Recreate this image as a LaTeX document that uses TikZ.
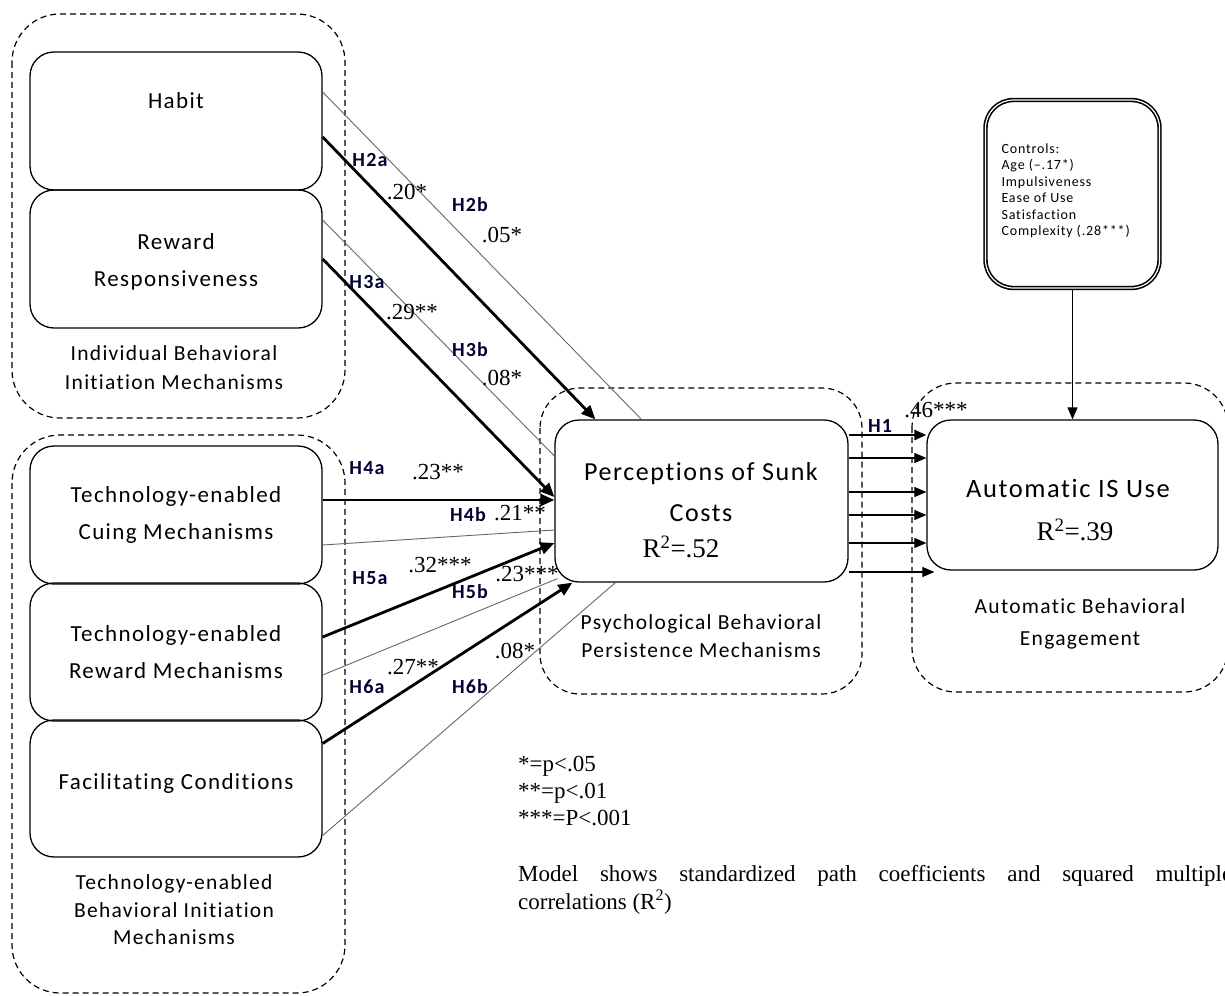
\documentclass[tikz,border=0pt]{standalone}
\usepackage{fontspec}
\setmainfont{Liberation Serif}
\setsansfont{Carlito}[LetterSpace=6,Ligatures=NoCommon]
\usetikzlibrary{arrows.meta,calc}

\tikzset{
  blk/.style={draw, line width=1.3pt, rounded corners=24pt, minimum width=292pt, minimum height=138pt, inner sep=0pt},
  grp/.style={draw, line width=1.2pt, dash pattern=on 6pt off 4pt, rounded corners=48pt},
  boxtxt/.style={align=center, font=\sffamily\fontsize{23}{37}\selectfont},
  grptxt/.style={align=center, font=\sffamily\fontsize{21.5}{29}\selectfont},
  strong/.style={line width=2.8pt, -{Triangle[length=14pt,width=12pt]}},
  weak/.style={line width=0.9pt, draw=black!60},
  hyp/.style={font=\sffamily\bfseries\fontsize{20}{20}\selectfont, text=black!80!blue},
  coef/.style={font=\fontsize{23}{23}\selectfont, inner sep=0pt},
  flow/.style={line width=1.1pt, -{Triangle[length=12pt,width=10pt]}}
}

\begin{document}
\begin{tikzpicture}[x=1pt,y=-1pt]
\useasboundingbox (0,0) rectangle (1225,995);
% dashed groupings
\draw[grp] (12,14) rectangle (345,418);
\draw[grp] (12,435) rectangle (345,993);
\draw[grp, rounded corners=40pt] (540,388) rectangle (862,694);
\draw[grp, rounded corners=44pt] (912,383) rectangle (1228,692);

% constructs
\node[blk] (habit) at (176,121) {};
\node[blk] (reward) at (176,259) {};
\node[blk] (cuing) at (176,515) {};
\node[blk] (techrew) at (176,652) {};
\node[blk, minimum height=137pt] (facil) at (176,788.5) {};
\node[blk, minimum width=293pt, minimum height=162pt] (sunk) at (701.5,501) {};
\node[blk, minimum width=291pt, minimum height=150pt] (auto) at (1072.5,495) {};
\node[draw, double, line width=1.6pt, double distance=1.2pt, rounded corners=28pt,
  minimum width=174pt, minimum height=188pt] (ctrl) at (1072.5,194) {};

\node[boxtxt] (habittxt) at (176,101) {Habit};
\node[boxtxt] (rewardtxt) at (176,262) {Reward\\Responsiveness};
\node[boxtxt] (cuingtxt) at (176,515) {Technology-enabled\\Cuing Mechanisms};
\node[boxtxt] (techrewtxt) at (176,652) {Technology-enabled\\Reward Mechanisms};
\node[boxtxt] (faciltxt) at (176,783) {Facilitating Conditions};
\node[align=center, font=\sffamily\fontsize{26}{41}\selectfont] (sunktxt) at (701,492) {Perceptions of Sunk\\Costs};
\node[font=\fontsize{27}{27}\selectfont] (sunkr) at (681,547) {R\textsuperscript{2}=.52};
\node[font=\sffamily\fontsize{26.5}{26}\selectfont] (autotxt) at (1068,488) {Automatic IS Use};
\node[font=\fontsize{27}{27}\selectfont] (autor) at (1075,530) {R\textsuperscript{2}=.39};
\node[anchor=west, align=left, font=\sffamily\fontsize{14}{16.5}\selectfont] (ctrltxt) at (998,191)
  {Controls:\\Age (–.17*)\\Impulsiveness\\Ease of Use\\Satisfaction\\Complexity (.28***)};

% group labels
\node[grptxt] (indlab) at (174,368) {Individual Behavioral\\Initiation Mechanisms};
\node[grptxt, font=\sffamily\fontsize{21.5}{27.5}\selectfont] (techlab) at (174,910) {Technology-enabled\\Behavioral Initiation\\Mechanisms};
\node[grptxt, font=\sffamily\fontsize{21.5}{28}\selectfont] (psylab) at (701,636) {Psychological Behavioral\\Persistence Mechanisms};
\node[grptxt, font=\sffamily\fontsize{21.5}{32}\selectfont] (englab) at (1080,624) {Automatic Behavioral\\Engagement};

% paths into sunk costs
\draw[weak] ([yshift=29pt]habit.east) -- ([xshift=87pt]sunk.north west);
\draw[strong] ([yshift=-16pt]habit.east) -- ([xshift=41pt]sunk.north west);
\draw[weak] ([yshift=39pt]reward.east) -- ([yshift=45pt]sunk.west);
\draw[strong] (reward.east) -- ([yshift=4pt]sunk.west);
\draw[strong] ([yshift=15pt]cuing.east) -- ([yshift=1pt]sunk.west);
\draw[weak] ([yshift=-30pt]cuing.east) -- ([yshift=-29pt]sunk.west);
\draw[strong] ([yshift=15pt]techrew.east) -- ([yshift=-42pt]sunk.west);
\draw[weak] ([yshift=-23pt]techrew.east) -- ([xshift=3pt,yshift=4pt]sunk.south west);
\draw[strong] ([yshift=45pt]facil.east) -- ([xshift=18pt]sunk.south west);
\draw[weak] ([yshift=-47pt]facil.east) -- ([xshift=61pt]sunk.south west);

% sunk costs to automatic use
\draw[flow, line width=2.6pt] ([yshift=66pt]sunk.east) -- ([yshift=66pt]sunk.east -| auto.west);
\foreach \dy in {43,9,-14,-42}
  \draw[flow] ([yshift=\dy pt]sunk.east) -- ([yshift=\dy pt]sunk.east -| auto.west);
\draw[flow] ([yshift=-71pt]sunk.east) -- ([xshift=8pt,yshift=-71pt]sunk.east -| auto.west);
\draw[flow, line width=1.4pt] (ctrl.south) -- (auto.north);

% hypothesis labels and coefficients
\node[hyp] (h2a) at (370,160) {H2a};
\node[coef] (c2a) at (407,192) {.20*};
\node[hyp] (h2b) at (470,205) {H2b};
\node[coef] (c2b) at (502,235) {.05*};
\node[hyp] (h3a) at (367,282) {H3a};
\node[coef] (c3a) at (412,312) {.29**};
\node[hyp] (h3b) at (470,350) {H3b};
\node[coef] (c3b) at (502,378) {.08*};
\node[hyp] (h4a) at (367,468) {H4a};
\node[coef] (c4a) at (438,472) {.23**};
\node[hyp] (h4b) at (468,515) {H4b};
\node[coef] (c4b) at (520,513) {.21**};
\node[coef] (c5a) at (440,565) {.32***};
\node[hyp] (h5a) at (370,578) {H5a};
\node[coef] (c5b) at (527,574) {.23***};
\node[hyp] (h5b) at (470,592) {H5b};
\node[coef] (c6a) at (413,667) {.27**};
\node[hyp] (h6a) at (367,687) {H6a};
\node[coef] (c6b) at (515,651) {.08*};
\node[hyp] (h6b) at (470,687) {H6b};
\node[hyp] (h1) at (880,426) {H1};
\node[coef] (c1) at (936,410) {.46***};

% legend
\node[anchor=north west, align=left, inner sep=0pt, font=\fontsize{23}{27}\selectfont] (sig) at (518,756)
  {*=p<.05\\**=p<.01\\***=P<.001};
\node[anchor=north west, align=left, inner sep=0pt, font=\fontsize{23}{28}\selectfont] (note) at (518,865)
  {\makebox[714pt][s]{Model shows standardized path coefficients and squared multiple}\\correlations (R\textsuperscript{2})};
\end{tikzpicture}
\end{document}
